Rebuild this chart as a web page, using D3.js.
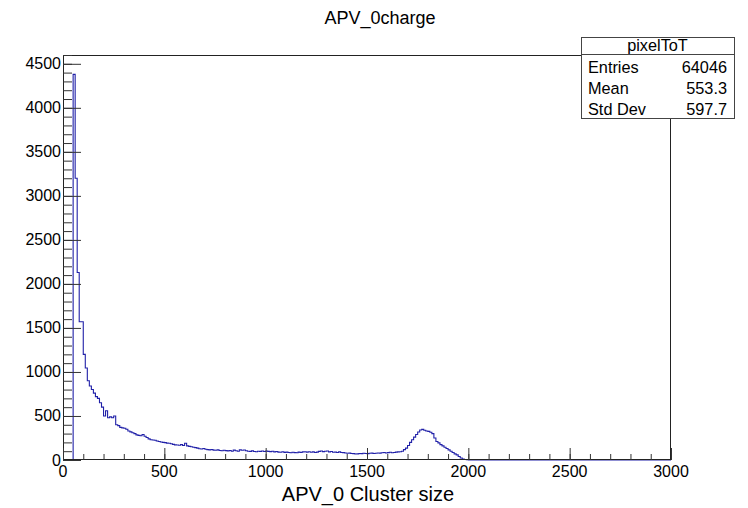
<!DOCTYPE html>
<html>
<head>
<meta charset="utf-8">
<script src="https://cdn.jsdelivr.net/npm/d3@7"></script>
<style>
  html, body { margin: 0; padding: 0; background: #fff; }
  svg { display: block; font-family: "Liberation Sans", Arial, Helvetica, sans-serif; }
</style>
</head>
<body>
<svg id="chart" width="748" height="508"></svg>
<script>
// Histogram definition: uniform bins of width 10 starting at 0; bins past the list are empty.
const histName = "pixelToT";
const histTitle = "APV_0charge";
const xTitle = "APV_0 Cluster size";
const xRange = [0, 3000];
const yMax = 4600;
const binWidth = 10;
const counts = [
  0, 0, 0, 0, 0, 4380, 3200, 2130, 1570, 1570,
  1200, 1045, 900, 840, 800, 760, 720, 700, 650, 600,
  500, 560, 480, 490, 480, 500, 400, 390, 370, 365,
  360, 350, 330, 320, 310, 300, 285, 280, 275, 290,
  270, 255, 240, 230, 228, 225, 215, 210, 205, 200,
  197, 192, 190, 185, 178, 172, 170, 168, 175, 165,
  190, 160, 155, 150, 145, 140, 135, 128, 125, 130,
  122, 118, 115, 120, 112, 110, 115, 108, 105, 110,
  106, 104, 108, 100, 112, 105, 100, 115, 110, 114,
  105, 100, 98, 104, 96, 94, 100, 98, 102, 96,
  102, 98, 95, 100, 92, 96, 90, 88, 94, 87,
  90, 85, 83, 88, 84, 83, 90, 86, 92, 94,
  90, 94, 88, 92, 86, 90, 98, 102, 95, 100,
  102, 92, 96, 88, 90, 85, 92, 86, 84, 80,
  76, 78, 74, 72, 68, 70, 74, 72, 76, 74,
  72, 76, 78, 74, 76, 80, 78, 82, 86, 80,
  84, 88, 82, 86, 90, 92, 94, 100, 118, 135,
  165, 200, 230, 260, 290, 318, 340, 348, 338, 330,
  325, 315, 300, 250, 210, 195, 175, 160, 145, 130,
  115, 100, 85, 70, 58, 40, 22, 12, 5, 2
];
// Statistics box rows
const statLabels = ["Entries", "Mean", "Std Dev"];
const statValues = ["64046", "553.3", "597.7"];
const yTicks = [0, 500, 1000, 1500, 2000, 2500, 3000, 3500, 4000, 4500];
const xTicks = [0, 500, 1000, 1500, 2000, 2500, 3000];

const svg = d3.select("#chart");
const frame = { left: 63, right: 671, top: 55, bottom: 460 };

const x = d3.scaleLinear().domain(xRange).range([frame.left, frame.right]);
const y = d3.scaleLinear().domain([0, yMax]).range([frame.bottom, frame.top]);

// Title
svg.append("text")
  .attr("x", 380).attr("y", 24)
  .attr("text-anchor", "middle")
  .attr("font-size", 18)
  .attr("fill", "#000")
  .text(histTitle);

// Histogram outline (step path)
const pts = [[xRange[0], 0]];
counts.forEach((c, i) => {
  pts.push([i * binWidth, c]);
  pts.push([(i + 1) * binWidth, c]);
});
pts.push([counts.length * binWidth, 0]);
pts.push([xRange[1], 0]);
svg.append("path")
  .attr("d", d3.line().x(d => x(d[0])).y(d => y(d[1]))(pts))
  .attr("fill", "none")
  .attr("stroke", "#2020a8")
  .attr("stroke-width", 1.1);

// Frame
svg.append("rect")
  .attr("x", frame.left + 0.5).attr("y", frame.top + 0.5)
  .attr("width", frame.right - frame.left - 1)
  .attr("height", frame.bottom - frame.top - 1)
  .attr("fill", "none")
  .attr("stroke", "#222")
  .attr("stroke-width", 1);

// Y axis: major ticks every 500, minor every 100, drawn inward
const yAxis = svg.append("g").attr("transform", `translate(${frame.left},0)`);
yAxis.append("g")
  .call(d3.axisRight(y).tickValues(d3.range(0, yMax + 1, 100)).tickSize(9).tickFormat(""))
  .call(g => g.select(".domain").remove())
  .call(g => g.selectAll("line").attr("stroke", "#333"));
yAxis.append("g")
  .call(d3.axisRight(y).tickValues(yTicks).tickSize(18).tickFormat(""))
  .call(g => g.select(".domain").remove())
  .call(g => g.selectAll("line").attr("stroke", "#333"));
svg.append("g").selectAll("text").data(yTicks).join("text")
  .attr("x", frame.left - 2)
  .attr("y", d => y(d) + 5.5)
  .attr("text-anchor", "end")
  .attr("font-size", 16)
  .attr("fill", "#000")
  .text(d => d);

// X axis: major ticks every 500, minor every 100, drawn upward
const xAxis = svg.append("g").attr("transform", `translate(0,${frame.bottom})`);
xAxis.append("g")
  .call(d3.axisTop(x).tickValues(d3.range(0, 3001, 100)).tickSize(6).tickFormat(""))
  .call(g => g.select(".domain").remove())
  .call(g => g.selectAll("line").attr("stroke", "#333"));
xAxis.append("g")
  .call(d3.axisTop(x).tickValues(xTicks).tickSize(12).tickFormat(""))
  .call(g => g.select(".domain").remove())
  .call(g => g.selectAll("line").attr("stroke", "#333"));
svg.append("g").selectAll("text").data(xTicks).join("text")
  .attr("x", d => x(d))
  .attr("y", 477)
  .attr("text-anchor", "middle")
  .attr("font-size", 16)
  .attr("fill", "#000")
  .text(d => d);

// X axis title
svg.append("text")
  .attr("x", 368).attr("y", 501)
  .attr("text-anchor", "middle")
  .attr("font-size", 20)
  .attr("fill", "#000")
  .text(xTitle);

// Statistics box
const box = { x: 581, y: 37, w: 153, h: 81, head: 17 };
const stats = svg.append("g");
stats.append("rect")
  .attr("x", box.x + 0.5).attr("y", box.y + 0.5)
  .attr("width", box.w).attr("height", box.h)
  .attr("fill", "#fff").attr("stroke", "#444").attr("stroke-width", 1);
stats.append("line")
  .attr("x1", box.x).attr("x2", box.x + box.w)
  .attr("y1", box.y + box.head + 0.5).attr("y2", box.y + box.head + 0.5)
  .attr("stroke", "#444");
stats.append("text")
  .attr("x", box.x + box.w / 2).attr("y", box.y + 14)
  .attr("text-anchor", "middle").attr("font-size", 16.3)
  .text(histName);
statLabels.forEach((lab, i) => {
  stats.append("text")
    .attr("x", box.x + 7).attr("y", 73 + i * 21)
    .attr("font-size", 16.3).text(lab);
  stats.append("text")
    .attr("x", box.x + box.w - 7).attr("y", 73 + i * 21)
    .attr("text-anchor", "end").attr("font-size", 16.3).text(statValues[i]);
});
</script>
</body>
</html>
